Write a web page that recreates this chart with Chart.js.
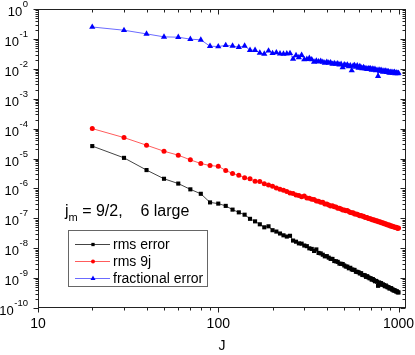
<!DOCTYPE html>
<html><head><meta charset="utf-8">
<script src="https://cdn.jsdelivr.net/npm/chart.js@4.4.1/dist/chart.umd.min.js"></script>
<style>html,body{margin:0;padding:0;background:#fff;overflow:hidden}</style>
</head><body>
<canvas id="c" width="415" height="355" style="display:block;width:415px;height:355px"></canvas>
<script>
// ---- data ----
const jValues = [20,30,40,50,60,70,80,90,100,110,120,130,140,150,160,170,180,190,200,210,220,230,240,250,260,270,280,290,300,310,320,330,340,350,360,370,380,390,400,410,420,430,440,450,460,470,480,490,500,510,520,530,540,550,560,570,580,590,600,610,620,630,640,650,660,670,680,690,700,710,720,730,740,750,760,770,780,790,800,810,820,830,840,850,860,870,880,890,900,910,920,930,940,950,960,970,980,990,1000];

const rmsError = [2.6e-5,1.05e-5,4.1e-6,2.1e-6,1.45e-6,9.3e-7,6.6e-7,3.4e-7,3.1e-7,2.6e-7,1.95e-7,1.58e-7,1.32e-7,9.6e-8,7.9e-8,6.3e-8,5.0e-8,5.4e-8,4.0e-8,3.6e-8,3.1e-8,2.7e-8,2.45e-8,2.6e-8,1.8e-8,1.65e-8,1.45e-8,1.42e-8,1.23e-8,1.17e-8,9.9e-9,9.46e-9,8.07e-9,9.1e-9,6.95e-9,6.71e-9,6.05e-9,5.35e-9,5.43e-9,4.82e-9,4.39e-9,4.38e-9,3.72e-9,3.65e-9,3.49e-9,3.05e-9,3.0e-9,2.96e-9,2.65e-9,2.44e-9,2.42e-9,2.13e-9,2.21e-9,1.95e-9,1.89e-9,1.88e-9,1.63e-9,1.62e-9,1.57e-9,1.43e-9,1.46e-9,1.27e-9,1.27e-9,1.24e-9,1.10e-9,1.16e-9,1.06e-9,9.9e-10,9.9e-10,8.85e-10,9.3e-10,8.53e-10,7.83e-10,8.05e-10,7.57e-10,5.52e-10,7.16e-10,6.73e-10,6.79e-10,5.97e-10,6.17e-10,5.81e-10,5.35e-10,5.66e-10,5.22e-10,4.93e-10,4.99e-10,4.50e-10,4.56e-10,4.61e-10,4.17e-10,4.13e-10,3.82e-10,3.96e-10,3.75e-10,3.56e-10,3.61e-10,3.34e-10,3.32e-10];

const rms9j = [1.0e-4,5.0e-5,2.78e-5,1.75e-5,1.29e-5,9.0e-6,6.8e-6,5.8e-6,5.5e-6,4.0e-6,3.15e-6,2.75e-6,2.27e-6,2.1e-6,1.75e-6,1.71e-6,1.43e-6,1.29e-6,1.17e-6,1.03e-6,9.3e-7,8.6e-7,7.9e-7,7.0e-7,6.7e-7,6.0e-7,5.8e-7,5.25e-7,5.62e-7,4.8e-7,4.71e-7,4.33e-7,4.27e-7,3.76e-7,3.72e-7,3.44e-7,3.41e-7,3.02e-7,3.0e-7,2.79e-7,2.6e-7,2.65e-7,2.42e-7,2.37e-7,2.16e-7,2.17e-7,2.03e-7,1.91e-7,1.91e-7,1.8e-7,1.81e-7,1.7e-7,1.56e-7,1.54e-7,1.52e-7,1.40e-7,1.39e-7,1.37e-7,1.29e-7,1.22e-7,1.24e-7,1.17e-7,1.16e-7,1.08e-7,1.07e-7,1.06e-7,9.8e-8,9.75e-8,9.7e-8,9.2e-8,8.75e-8,8.9e-8,8.47e-8,8.05e-8,8.22e-8,7.82e-8,7.45e-8,7.6e-8,7.23e-8,6.9e-8,7.05e-8,6.71e-8,6.41e-8,6.55e-8,6.25e-8,5.97e-8,5.97e-8,5.97e-8,5.57e-8,5.58e-8,5.58e-8,5.21e-8,5.22e-8,5.12e-8,4.89e-8,5.01e-8,4.81e-8,4.6e-8,4.72e-8];

const fracError = [0.25,0.195,0.147,0.117,0.114,0.098,0.093,0.057,0.0555,0.061,0.058,0.053,0.058,0.042,0.042,0.034,0.0316,0.040,0.033,0.035,0.032,0.0316,0.032,0.033,0.0215,0.028,0.024,0.0286,0.0205,0.021,0.0227,0.0205,0.017,0.0185,0.0173,0.0181,0.0169,0.0157,0.0169,0.0158,0.0162,0.0144,0.0151,0.0145,0.0149,0.0136,0.0143,0.0112,0.0138,0.0130,0.0136,0.0120,0.0129,0.00877,0.0125,0.0131,0.0115,0.0128,0.0107,0.0121,0.0109,0.0102,0.0111,0.0102,0.0103,0.00968,0.0102,0.00987,0.0102,0.00918,0.00995,0.00938,0.0097,0.00875,0.00906,0.00565,0.00925,0.00855,0.00906,0.00855,0.00789,0.00855,0.00809,0.00857,0.00773,0.00802,0.00811,0.00733,0.00778,0.00735,0.0078,0.00721,0.00748,0.00775,0.0070,0.00726,0.00736,0.00697,0.00723];

const seriesNames = ['rms error', 'rms 9j', 'fractional error'];
const xTickLabels = [10, 100, 1000];
const yTickExponents = [0, -1, -2, -3, -4, -5, -6, -7, -8, -9, -10];
const xAxisTitle = 'J';
const noteMain = 'j', noteSub = 'm', noteRest = ' = 9/2,    6 large';

// ---- rendering ----
const FONT = '"Liberation Sans", Arial, Helvetica, sans-serif';
const toPoints = arr => jValues.map((j, i) => ({x: j, y: arr[i]}));

const decorPlugin = {
  id: 'decor',
  afterDraw(chart) {
    const ctx = chart.ctx, a = chart.chartArea;
    const xs = chart.scales.x, ys = chart.scales.y;
    ctx.save();
    const L = Math.round(a.left) + 0.5, R = Math.round(a.right) - 0.5;
    const T = Math.round(a.top) + 0.5, B = Math.round(a.bottom) - 0.5;
    ctx.strokeStyle = '#222';
    ctx.lineWidth = 1;
    ctx.strokeRect(L, T, R - L, B - T);
    ctx.beginPath();
    for (let d = 1; d <= 3; d++) for (let m = 1; m <= 9; m++) {
      const v = m * Math.pow(10, d);
      if (v < xs.min || v > xs.max) continue;
      const px = Math.round(xs.getPixelForValue(v)) + 0.5;
      const len = m === 1 ? 5 : 3;
      ctx.moveTo(px, B); ctx.lineTo(px, B + len);
      ctx.moveTo(px, T); ctx.lineTo(px, T + len);
    }
    for (let e = -10; e <= 0; e++) for (let m = 1; m <= 9; m++) {
      const v = m * Math.pow(10, e);
      if (v > ys.max * 1.0001) continue;
      const py = Math.round(ys.getPixelForValue(v)) + 0.5;
      const len = m === 1 ? 5 : 3;
      ctx.moveTo(L, py); ctx.lineTo(L - len, py);
      ctx.moveTo(R, py); ctx.lineTo(R - len, py);
    }
    ctx.stroke();

    // y tick labels 10^n
    ctx.fillStyle = '#000';
    ctx.textBaseline = 'alphabetic';
    ctx.textAlign = 'left';
    yTickExponents.forEach(e => {
      const py = ys.getPixelForValue(Math.pow(10, e));
      const exp = String(e);
      ctx.font = '13px ' + FONT;
      const wb = ctx.measureText('10').width;
      ctx.font = '9.5px ' + FONT;
      const we = ctx.measureText(exp).width;
      const x0 = 28 - we - wb - 0.5;
      ctx.font = '13px ' + FONT;
      ctx.fillText('10', x0, py + 7);
      ctx.font = '9.5px ' + FONT;
      ctx.fillText(exp, x0 + wb + 0.5, py - 2);
    });

    // annotation
    ctx.font = '16px ' + FONT;
    ctx.fillText(noteMain, 65, 216);
    let nx = 65 + ctx.measureText(noteMain).width;
    ctx.font = '11px ' + FONT;
    ctx.fillText(noteSub, nx, 221);
    nx += ctx.measureText(noteSub).width;
    ctx.font = '16px ' + FONT;
    ctx.fillText(noteRest, nx, 216);

    // legend
    const bx = 68.5, by = 230.5, bw = 139, bh = 56;
    ctx.strokeStyle = '#666';
    ctx.strokeRect(bx, by, bw, bh);
    ctx.font = '14px ' + FONT;
    ctx.textBaseline = 'middle';
    chart.data.datasets.forEach((ds, i) => {
      const yy = 244 + i * 17;
      ctx.strokeStyle = ds.borderColor;
      ctx.lineWidth = 1;
      ctx.beginPath(); ctx.moveTo(75, yy + 0.5); ctx.lineTo(110, yy + 0.5); ctx.stroke();
      ctx.fillStyle = ds.pointBackgroundColor;
      ctx.strokeStyle = ds.pointBackgroundColor;
      Chart.helpers.drawPoint(ctx, {pointStyle: ds.pointStyle, radius: ds.pointRadius * 0.8, rotation: 0, borderWidth: 0}, 93, yy + 0.5);
      ctx.fillStyle = '#000';
      ctx.fillText(ds.label, 113, yy + 1);
    });
    ctx.restore();
  }
};

new Chart(document.getElementById('c'), {
  type: 'line',
  data: {
    datasets: [
      {label: seriesNames[0], data: toPoints(rmsError), borderColor: '#444', borderWidth: 1,
       pointStyle: 'rect', pointRadius: 2.9, pointBackgroundColor: '#000', pointBorderWidth: 0},
      {label: seriesNames[1], data: toPoints(rms9j), borderColor: '#ff5c5c', borderWidth: 1,
       pointStyle: 'circle', pointRadius: 2.5, pointBackgroundColor: '#ff0000', pointBorderWidth: 0},
      {label: seriesNames[2], data: toPoints(fracError), borderColor: '#6b6bff', borderWidth: 1,
       pointStyle: 'triangle', pointRadius: 3.6, pointBackgroundColor: '#0000ff', pointBorderWidth: 0}
    ]
  },
  options: {
    responsive: false,
    animation: false,
    events: [],
    layout: {padding: {left: 0, right: 9, top: 9, bottom: 0}},
    plugins: {legend: {display: false}, tooltip: {enabled: false}},
    scales: {
      x: {
        type: 'logarithmic', min: 10, max: 1100,
        grid: {display: false, drawTicks: false},
        border: {display: false},
        ticks: {
          autoSkip: false, maxRotation: 0, color: '#000', padding: 8,
          font: {size: 14, family: FONT},
          callback: (v) => {
            const r = Math.round(v);
            return xTickLabels.includes(r) && Math.abs(v - r) < 1e-6 ? String(r) : '';
          }
        },
        title: {display: true, text: xAxisTitle, color: '#000', font: {size: 14, family: FONT}, padding: {top: 0, bottom: 0}},
        afterFit: (s) => { s.height = 47; }
      },
      y: {
        type: 'logarithmic', min: 1e-10, max: 1,
        grid: {display: false, drawTicks: false},
        border: {display: false},
        ticks: {display: false},
        afterFit: (s) => { s.width = 38; }
      }
    }
  },
  plugins: [decorPlugin]
});
</script>
</body></html>
